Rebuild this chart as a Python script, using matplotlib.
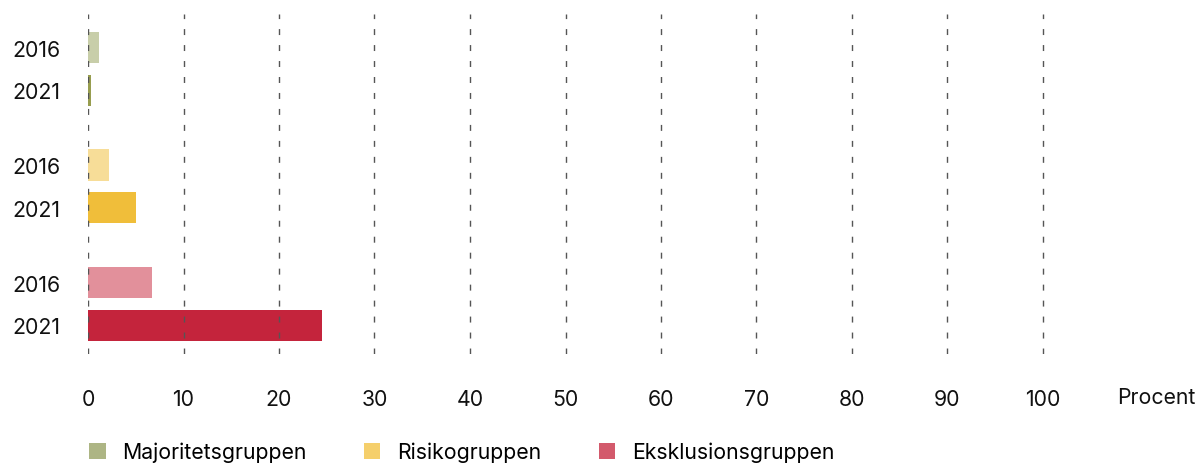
import matplotlib
matplotlib.use("Agg")
import matplotlib.pyplot as plt
from matplotlib.patches import Patch

plt.rcParams['font.family'] = ['Inter', 'DejaVu Sans']

# data (percent)
years = ['2016', '2021', '2016', '2021', '2016', '2021']
groups = ['Majoritetsgruppen', 'Risikogruppen', 'Eksklusionsgruppen']
values = [1.2, 0.3, 2.2, 5.0, 6.7, 24.5]
bar_colors = ['#c8cea9', '#979d4f', '#f7dd98', '#f0be3a', '#e2909b', '#c4243c']
legend_colors = ['#adb584', '#f5cf6b', '#d35a6c']
xticks = [0, 10, 20, 30, 40, 50, 60, 70, 80, 90, 100]

ypos = [0, 1, 2.75, 3.75, 5.5, 6.5]
fs = 15.3

fig = plt.figure(figsize=(11.97, 4.64), dpi=100)
ax = fig.add_axes([88 / 1197, 1 - 355 / 464, (1138.5 - 88) / 1197, 340 / 464])

ax.barh(ypos, values, height=0.73, color=bar_colors, zorder=1)
for x in xticks:
    ax.axvline(x, color='#555555', lw=1.0, linestyle=(0, (4.3, 7.2)), zorder=3)

ax.set_xlim(0, 110)
ax.set_ylim(7.17, -0.785)
ax.set_xticks(xticks)
ax.set_xticklabels([str(t) for t in xticks])
ax.set_yticks(ypos)
ax.set_yticklabels(years)
ax.tick_params(axis='both', length=0, labelsize=fs, colors='#111111')
ax.tick_params(axis='x', pad=25)
ax.tick_params(axis='y', pad=20)
for s in ax.spines.values():
    s.set_visible(False)

fig.text(1117 / 1197, 1 - 398 / 464, 'Procent', fontsize=fs, color='#111111',
         ha='left', va='center')

handles = [Patch(facecolor=c, edgecolor='none') for c in legend_colors]
fig.legend(handles, groups, loc='center left', bbox_to_anchor=(89 / 1197, 1 - 453 / 464),
           ncol=3, frameon=False, fontsize=fs, handlelength=0.78, handleheight=0.78,
           handletextpad=0.78, columnspacing=2.7, borderpad=0, borderaxespad=0)

fig.savefig('out.png', dpi=100)
